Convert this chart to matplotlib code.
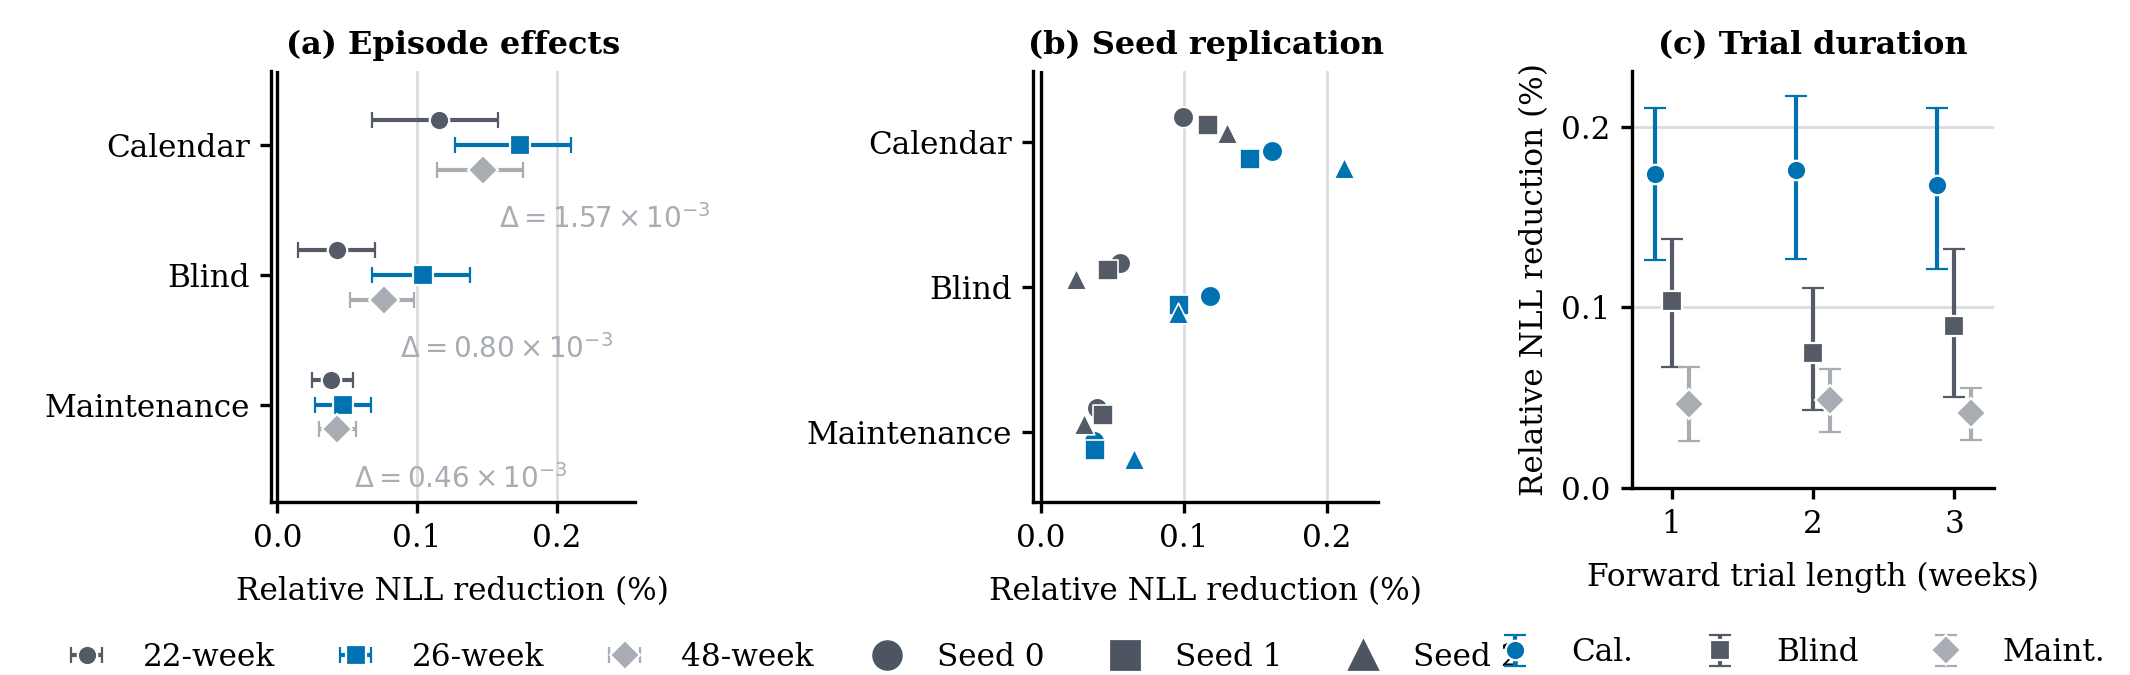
import numpy as np
import matplotlib
matplotlib.use("Agg")
import matplotlib.pyplot as plt
from matplotlib.lines import Line2D

plt.rcParams['font.family'] = 'DejaVu Serif'
plt.rcParams['font.size'] = 11.2
plt.rcParams['mathtext.fontset'] = 'dejavusans'

DARK = "#555b66"
BLUE = "#0072b2"
LIGHT = "#a8adb3"
GRID = "#d9dce0"

categories = ["Maintenance", "Blind", "Calendar"]

# (a) episode effects: mean, low, high per horizon (order Maint, Blind, Cal)
horizons = ["22-week", "26-week", "48-week"]
ep_mean = {
    "22-week": [0.038, 0.043, 0.116],
    "26-week": [0.047, 0.104, 0.174],
    "48-week": [0.043, 0.076, 0.147],
}
ep_low = {
    "22-week": [0.025, 0.015, 0.068],
    "26-week": [0.027, 0.068, 0.127],
    "48-week": [0.030, 0.052, 0.114],
}
ep_high = {
    "22-week": [0.054, 0.070, 0.158],
    "26-week": [0.067, 0.138, 0.210],
    "48-week": [0.056, 0.098, 0.176],
}
deltas = ["0.46", "0.80", "1.57"]
delta_x = [0.055, 0.088, 0.159]

# (b) seed replication: two model groups x three seeds (order Maint, Blind, Cal)
seeds = ["Seed 0", "Seed 1", "Seed 2"]
seed_gray = [[0.0395, 0.0555, 0.0997],
             [0.0435, 0.047, 0.117],
             [0.030, 0.0246, 0.130]]
seed_blue = [[0.0375, 0.1186, 0.162],
             [0.038, 0.0963, 0.1465],
             [0.065, 0.0957, 0.212]]

# (c) trial duration
weeks = [1, 2, 3]
tasks = ["Cal.", "Blind", "Maint."]
trial_mean = {"Cal.": [0.174, 0.176, 0.168],
              "Blind": [0.1036, 0.0749, 0.0897],
              "Maint.": [0.0467, 0.049, 0.0414]}
trial_low = {"Cal.": [0.1263, 0.127, 0.1215],
             "Blind": [0.0672, 0.0431, 0.0505],
             "Maint.": [0.0263, 0.0313, 0.0268]}
trial_high = {"Cal.": [0.2105, 0.217, 0.2105],
              "Blind": [0.138, 0.1108, 0.1325],
              "Maint.": [0.067, 0.066, 0.0555]}

fig = plt.figure(figsize=(10.65, 3.375), dpi=200)
axa = fig.add_axes([0.127, 0.256, 0.171, 0.639])
axb = fig.add_axes([0.485, 0.256, 0.162, 0.639])
axc = fig.add_axes([0.766, 0.277, 0.170, 0.618])

for ax in (axa, axb, axc):
    ax.spines['top'].set_visible(False)
    ax.spines['right'].set_visible(False)
    ax.spines['left'].set_linewidth(1.2)
    ax.spines['bottom'].set_linewidth(1.2)
    ax.tick_params(width=1.2, length=4)

ypos = np.arange(len(categories))

# ---- (a)
styles_a = {"22-week": (DARK, "o", 0.19), "26-week": (BLUE, "s", 0.0), "48-week": (LIGHT, "D", -0.19)}
handles = []
for h in horizons:
    col, mk, off = styles_a[h]
    m = np.array(ep_mean[h])
    lo = m - np.array(ep_low[h])
    hi = np.array(ep_high[h]) - m
    eb = axa.errorbar(m, ypos + off, xerr=[lo, hi], fmt=mk, color=col, ecolor=col,
                      capsize=3, elinewidth=1.5, capthick=1.2, ms=7 if mk != "D" else 7.5,
                      mec="white", mew=0.8, label=h, zorder=3)
    handles.append(eb)
for i, (d, dx) in enumerate(zip(deltas, delta_x)):
    axa.text(dx, ypos[i] - 0.57, r"$\Delta = %s \times 10^{-3}$" % d, color=LIGHT,
             fontsize=10, va="center", ha="left", zorder=4)
axa.axvline(0, color="black", lw=1.2, zorder=2)
axa.set_xlim(-0.005, 0.256)
axa.set_ylim(-0.75, 2.57)
axa.set_yticks(ypos)
axa.set_yticklabels(categories)
axa.set_xticks([0.0, 0.1, 0.2])
for v in (0.1, 0.2):
    axa.axvline(v, color=GRID, lw=1, zorder=0)
axa.set_xlabel("Relative NLL reduction (%)", labelpad=8)
axa.set_title("(a) Episode effects", fontweight="bold", fontsize=11.5)
axa.legend(handles=handles, loc="center", bbox_to_anchor=(0.45, -0.36), ncol=3,
           frameon=False, handletextpad=0.8, columnspacing=1.6)

# ---- (b)
seed_markers = ["o", "s", "^"]
gray_off = [0.17, 0.12, 0.06]
blue_off = [-0.06, -0.12, -0.18]
for s in range(3):
    axb.scatter(seed_gray[s], ypos + gray_off[s], marker=seed_markers[s], color=DARK,
                s=55, edgecolors="white", linewidths=0.6, zorder=3)
    axb.scatter(seed_blue[s], ypos + blue_off[s], marker=seed_markers[s], color=BLUE,
                s=55, edgecolors="white", linewidths=0.6, zorder=3)
axb.axvline(0, color="black", lw=1.2, zorder=2)
axb.set_xlim(-0.0055, 0.236)
axb.set_ylim(-0.48, 2.49)
axb.set_yticks(ypos)
axb.set_yticklabels(categories)
axb.set_xticks([0.0, 0.1, 0.2])
for v in (0.1, 0.2):
    axb.axvline(v, color=GRID, lw=1, zorder=0)
axb.set_xlabel("Relative NLL reduction (%)", labelpad=8)
axb.set_title("(b) Seed replication", fontweight="bold", fontsize=11.5)
seed_handles = [Line2D([], [], ls="none", marker=mk, color="#4d5563", ms=10, label=lab)
                for mk, lab in zip(seed_markers, seeds)]
axb.legend(handles=seed_handles, loc="center", bbox_to_anchor=(0.45, -0.36), ncol=3,
           frameon=False, handletextpad=0.6, columnspacing=1.6)

# ---- (c)
styles_c = {"Cal.": (BLUE, "o", -0.12), "Blind": (DARK, "s", 0.0), "Maint.": (LIGHT, "D", 0.12)}
handles_c = []
for t in tasks:
    col, mk, off = styles_c[t]
    m = np.array(trial_mean[t])
    lo = m - np.array(trial_low[t])
    hi = np.array(trial_high[t]) - m
    eb = axc.errorbar(np.array(weeks) + off, m, yerr=[lo, hi], fmt=mk, color=col, ecolor=col,
                      capsize=4, elinewidth=1.5, capthick=1.2, ms=7 if mk != "D" else 7.5,
                      mec="white", mew=0.8, label=t, zorder=3)
    handles_c.append(eb)
axc.set_xlim(0.717, 3.28)
axc.set_ylim(0, 0.231)
axc.set_xticks(weeks)
axc.set_yticks([0.0, 0.1, 0.2])
for v in (0.1, 0.2):
    axc.axhline(v, color=GRID, lw=1, zorder=0)
axc.set_xlabel("Forward trial length (weeks)", labelpad=8)
axc.set_ylabel("Relative NLL reduction (%)")
axc.set_title("(c) Trial duration", fontweight="bold", fontsize=11.5)
axc.legend(handles=handles_c, loc="center", bbox_to_anchor=(0.45, -0.395), ncol=3,
           frameon=False, handletextpad=0.8, columnspacing=1.8)

fig.savefig("out.png", dpi=200)
